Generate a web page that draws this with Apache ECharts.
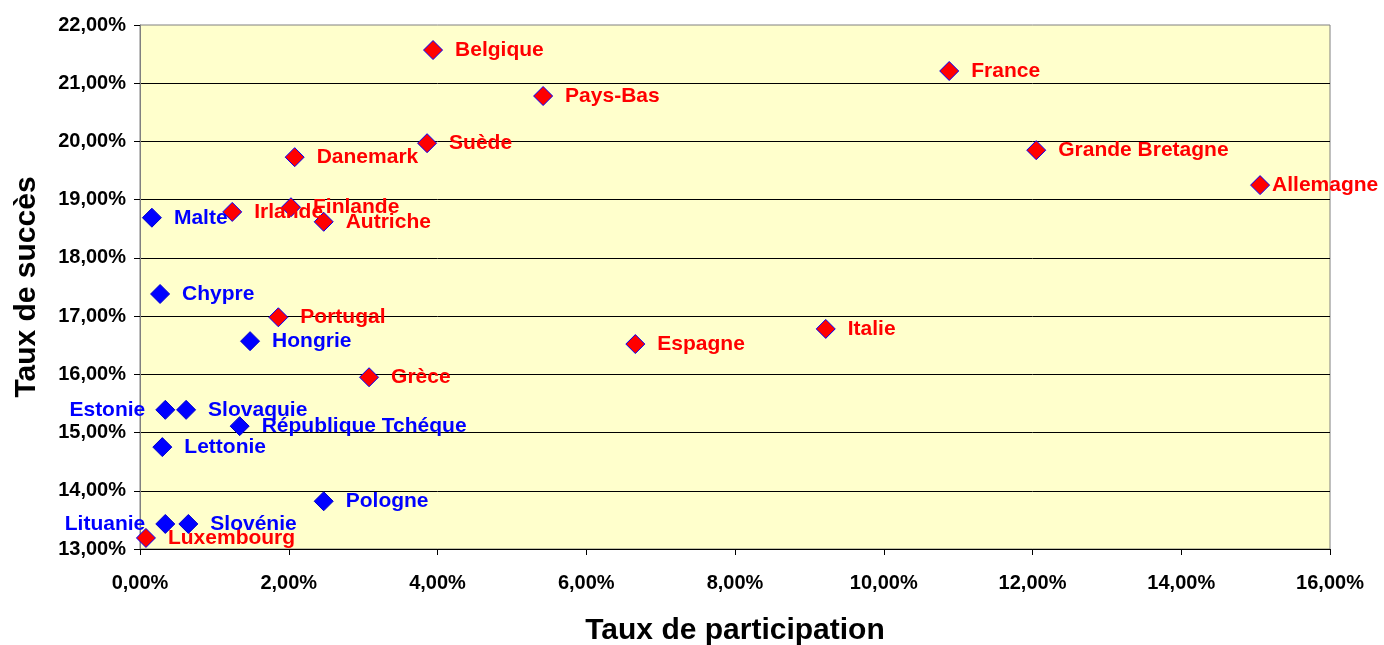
<!DOCTYPE html>
<html>
<head>
<meta charset="utf-8">
<script src="https://cdn.jsdelivr.net/npm/echarts@6/dist/echarts.min.js"></script>
<style>
	html, body { margin: 0; padding: 0; background: #fff; }
	#chart { width: 1384px; height: 645px; }
</style>
</head>
<body>
<div id="chart"></div>
<script>
	// pays, taux de participation (%), taux de succès (%)
	const countries = ['Belgique', 'France', 'Pays-Bas', 'Suède', 'Danemark', 'Grande Bretagne', 'Allemagne',
		'Irlande', 'Finlande', 'Autriche', 'Portugal', 'Italie', 'Espagne', 'Grèce', 'Luxembourg',
		'Malte', 'Chypre', 'Hongrie', 'Estonie', 'Slovaquie', 'République Tchéque', 'Lettonie',
		'Pologne', 'Lituanie', 'Slovénie']
	const participation = [3.94, 10.88, 5.42, 3.86, 2.08, 12.05, 15.06,
		1.24, 2.03, 2.47, 1.86, 9.22, 6.66, 3.08, 0.08,
		0.16, 0.27, 1.48, 0.34, 0.62, 1.34, 0.30,
		2.47, 0.34, 0.65]
	const success = [21.57, 21.21, 20.78, 19.97, 19.73, 19.85, 19.25,
		18.79, 18.87, 18.62, 16.98, 16.78, 16.52, 15.95, 13.19,
		18.69, 17.38, 16.57, 15.39, 15.39, 15.11, 14.75,
		13.82, 13.43, 13.43]
	// 'A' = anciens membres (rouge), 'N' = nouveaux membres (bleu)
	const groups = ['A', 'A', 'A', 'A', 'A', 'A', 'A',
		'A', 'A', 'A', 'A', 'A', 'A', 'A', 'A',
		'N', 'N', 'N', 'N', 'N', 'N', 'N',
		'N', 'N', 'N']
	const yTicks = [13, 14, 15, 16, 17, 18, 19, 20, 21, 22]
	const xTicks = [0, 2, 4, 6, 8, 10, 12, 14, 16]

	const leftLabels = ['Estonie', 'Lituanie']
	const fmt = v => v.toFixed(2).replace('.', ',') + '%'
	const font = '"Liberation Sans", Arial, sans-serif'

	function pointsFor(g) {
		const out = []
		countries.forEach((name, i) => {
			if (groups[i] !== g) return
			const item = { name: name, value: [participation[i], success[i]] }
			if (leftLabels.includes(name)) {
				item.label = { position: 'left', distance: 10 }
			}
			if (name === 'Allemagne') {
				item.label = { distance: 2 }
			}
			out.push(item)
		})
		return out
	}

	const chart = echarts.init(document.getElementById('chart'))

	const option = {
		animation: false,
		backgroundColor: '#ffffff',
		grid: {
			left: 140,
			right: 54,
			top: 25,
			bottom: 96,
			outerBoundsMode: 'none',
			show: true,
			backgroundColor: '#FFFFCC',
			borderColor: '#808080',
			borderWidth: 1,
		},
		xAxis: {
			type: 'value',
			min: xTicks[0],
			max: xTicks[xTicks.length - 1],
			interval: 2,
			name: 'Taux de participation',
			nameLocation: 'middle',
			nameGap: 67,
			nameTextStyle: { fontFamily: font, fontWeight: 'bold', fontSize: 30, color: '#000' },
			axisLine: { lineStyle: { color: '#000', width: 1 } },
			axisTick: { show: true, length: 6, lineStyle: { color: '#000' } },
			axisLabel: { fontFamily: font, fontWeight: 'bold', fontSize: 20, color: '#000', margin: 24, formatter: fmt },
			splitLine: { show: false },
		},
		yAxis: {
			type: 'value',
			min: yTicks[0],
			max: yTicks[yTicks.length - 1],
			interval: 1,
			name: 'Taux de succès',
			nameLocation: 'middle',
			nameGap: 98,
			nameTextStyle: { fontFamily: font, fontWeight: 'bold', fontSize: 30, color: '#000' },
			axisLine: { show: true, lineStyle: { color: '#808080', width: 1 } },
			axisTick: { show: true, length: 6, lineStyle: { color: '#000' } },
			axisLabel: { fontFamily: font, fontWeight: 'bold', fontSize: 20, color: '#000', margin: 14, formatter: fmt },
			splitLine: { show: true, showMinLine: false, showMaxLine: false, lineStyle: { color: '#000', width: 1 } },
		},
		series: [{
			name: 'anciens',
			type: 'scatter',
			symbol: 'diamond',
			symbolSize: 19,
			itemStyle: { color: '#FF0000', borderColor: '#0000FF', borderWidth: 1, opacity: 1 },
			label: {
				show: true,
				position: 'right',
				distance: 12,
				formatter: '{b}',
				color: '#FF0000',
				fontFamily: font,
				fontWeight: 'bold',
				fontSize: 21,
			},
			data: pointsFor('A'),
		}, {
			name: 'nouveaux',
			type: 'scatter',
			symbol: 'diamond',
			symbolSize: 19,
			itemStyle: { color: '#0000FF', borderColor: '#0000CC', borderWidth: 1, opacity: 1 },
			label: {
				show: true,
				position: 'right',
				distance: 12,
				formatter: '{b}',
				color: '#0000FF',
				fontFamily: font,
				fontWeight: 'bold',
				fontSize: 21,
			},
			data: pointsFor('N'),
		}],
	}

	chart.setOption(option)
</script>
</body>
</html>
